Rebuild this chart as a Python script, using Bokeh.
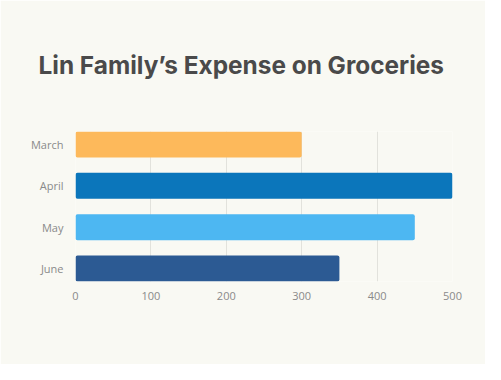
from bokeh.plotting import figure
from bokeh.models import FixedTicker, Range1d, ColumnDataSource
from bokeh.embed import file_html
from bokeh.resources import INLINE

months = ["March", "April", "May", "June"]
expenses = [300, 500, 450, 350]
colors = ["#FDB95B", "#0B76BB", "#4DB7F2", "#2C5A93"]
x_ticks = [0, 100, 200, 300, 400, 500]

pos = list(range(len(months)))
bar_h = 0.63
src = ColumnDataSource(dict(y=pos, v=expenses, c=colors, name=months))

p = figure(width=485, height=364, output_backend="svg", toolbar_location=None,
           x_range=Range1d(0, 500), y_range=Range1d(len(months) - 1 + bar_h / 2, -bar_h / 2),
           background_fill_color="#F9F9F3", border_fill_color="#F9F9F3",
           min_border_left=75, min_border_right=33, min_border_bottom=83, min_border_top=131,
           outline_line_color=None)

p.hbar(y="y", right="v", left=0, height=bar_h, fill_color="c", line_color=None, source=src,
       border_radius=2)

p.title.text = "Lin Family\u2019s Expense on Groceries"
p.title.align = "left"
p.title.vertical_align = "top"
p.title.text_font = "Inter"
p.title.text_font_size = "24.4px"
p.title.text_font_style = "bold"
p.title.text_color = "#4A4A4A"
p.title.standoff = 99
p.title.offset = -37

p.xaxis.ticker = FixedTicker(ticks=x_ticks)
p.yaxis.ticker = FixedTicker(ticks=pos)
p.yaxis.major_label_overrides = {i: m for i, m in enumerate(months)}

for ax in (p.xaxis[0], p.yaxis[0]):
    ax.axis_line_color = None
    ax.major_tick_line_color = None
    ax.minor_tick_line_color = None
    ax.major_label_text_font = "Open Sans"
    ax.major_label_text_font_size = "11px"
    ax.major_label_text_color = "#8A8A8A"
p.xaxis.major_label_standoff = 4
p.yaxis.major_label_standoff = 6

p.xgrid.grid_line_color = "#E2E2DC"
p.xgrid.grid_line_width = 1
p.ygrid.grid_line_color = None

open("out.html", "w").write(file_html(p, INLINE))
